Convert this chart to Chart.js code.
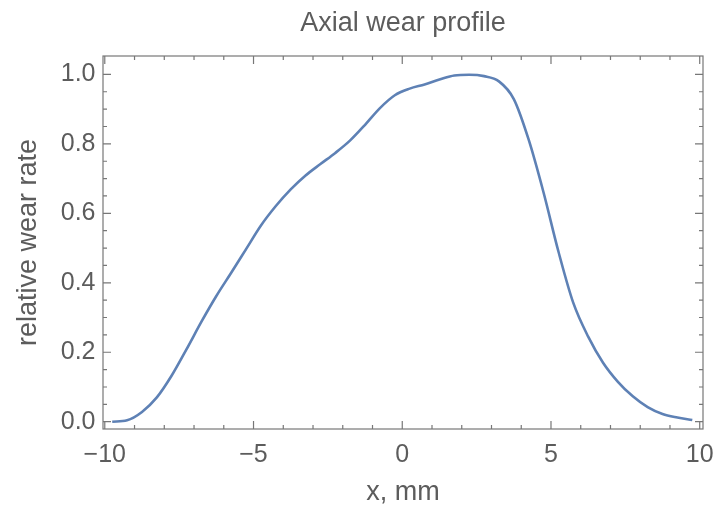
<!DOCTYPE html>
<html>
<head>
<meta charset="utf-8">
<script src="https://cdn.jsdelivr.net/npm/chart.js@4"></script>
<style>
  html, body { margin: 0; padding: 0; background: #fff; }
  #wrap { width: 714px; height: 509px; }
</style>
</head>
<body>
<div id="wrap"><canvas id="wearChart" width="714" height="509"></canvas></div>
<script>
// Axial position, mm
const xPositions = [
  -9.75, -9.25, -8.75, -8.25, -7.75, -7.25, -6.75, -6.25, -5.75, -5.25,
  -4.75, -4.25, -3.75, -3.25, -2.75, -2.25, -1.75, -1.25, -0.75, -0.25,
  0.25, 0.75, 1.25, 1.75, 2.25, 2.75, 3.25, 3.75, 4.25, 4.75,
  5.25, 5.75, 6.25, 6.75, 7.25, 7.75, 8.25, 8.75, 9.25, 9.75
];
// Relative wear rate
const wearRate = [
  0.000, 0.004, 0.028, 0.070, 0.133, 0.209, 0.288, 0.362, 0.429, 0.497,
  0.565, 0.621, 0.669, 0.709, 0.742, 0.774, 0.810, 0.855, 0.903, 0.940,
  0.959, 0.971, 0.985, 0.997, 0.999, 0.995, 0.980, 0.929, 0.812, 0.660,
  0.490, 0.342, 0.245, 0.170, 0.115, 0.073, 0.042, 0.022, 0.012, 0.005
];
const xTickValues = [-10, -5, 0, 5, 10];
const yTickValues = [0, 0.2, 0.4, 0.6, 0.8, 1.0];

const textColor = '#5c5c5c';
const frameColor = '#777';
const fontFamily = '"Liberation Sans", Arial, sans-serif';

// frame around the plot with inward ticks on all four sides
const frameTicks = {
  id: 'frameTicks',
  beforeDatasetsDraw(chart) {
    const { ctx, chartArea: a, scales: { x, y } } = chart;
    ctx.save();
    ctx.strokeStyle = frameColor;
    ctx.lineWidth = 1.2;
    ctx.strokeRect(a.left, a.top, a.right - a.left, a.bottom - a.top);
    ctx.beginPath();
    for (let v = -10; v <= 10; v++) {
      const px = x.getPixelForValue(v);
      const len = v % 5 === 0 ? 8 : 4;
      ctx.moveTo(px, a.bottom); ctx.lineTo(px, a.bottom - len);
      ctx.moveTo(px, a.top); ctx.lineTo(px, a.top + len);
    }
    for (let i = 0; i <= 20; i++) {
      const py = y.getPixelForValue(i * 0.05);
      const len = i % 4 === 0 ? 8 : 4;
      ctx.moveTo(a.left, py); ctx.lineTo(a.left + len, py);
      ctx.moveTo(a.right, py); ctx.lineTo(a.right - len, py);
    }
    ctx.stroke();
    ctx.restore();
  }
};

const ctx = document.getElementById('wearChart').getContext('2d');
const wearChart = new Chart(ctx, {
  type: 'line',
  data: {
    datasets: [{
      data: xPositions.map((x, i) => ({ x: x, y: wearRate[i] })),
      borderColor: '#5E81B5',
      borderWidth: 2.6,
      pointRadius: 0,
      fill: false,
      cubicInterpolationMode: 'monotone'
    }]
  },
  options: {
    responsive: false,
    devicePixelRatio: 1,
    animation: false,
    layout: { padding: { left: 0, right: 11, top: 0, bottom: 0 } },
    scales: {
      x: {
        type: 'linear',
        min: -10.06,
        max: 10.11,
        grid: { display: false, drawTicks: false },
        border: { display: false },
        afterBuildTicks: s => { s.ticks = xTickValues.map(v => ({ value: v })); },
        afterFit: s => { s.height = 80; s.paddingLeft = 0; s.paddingRight = 0; },
        ticks: {
          autoSkip: false,
          maxRotation: 0,
          padding: 11,
          color: textColor,
          font: { family: fontFamily, size: 25 },
          callback: v => (v < 0 ? '\u2212' + Math.abs(v) : String(v))
        },
        title: {
          display: true,
          text: 'x, mm',
          color: textColor,
          font: { family: fontFamily, size: 27 },
          padding: { top: 0, bottom: 0 }
        }
      },
      y: {
        min: -0.021,
        max: 1.053,
        grid: { display: false, drawTicks: false },
        border: { display: false },
        afterBuildTicks: s => { s.ticks = yTickValues.map(v => ({ value: v })); },
        afterFit: s => { s.width = 103; s.paddingTop = 0; s.paddingBottom = 0; },
        ticks: {
          padding: 7.5,
          color: textColor,
          font: { family: fontFamily, size: 25 },
          callback: v => v.toFixed(1)
        },
        title: {
          display: true,
          text: 'relative wear rate',
          color: textColor,
          font: { family: fontFamily, size: 27 },
          padding: { top: 12.3, bottom: 0 }
        }
      }
    },
    plugins: {
      legend: { display: false },
      tooltip: { enabled: false },
      title: {
        display: true,
        fullSize: false,
        text: 'Axial wear profile',
        color: textColor,
        font: { family: fontFamily, size: 27, weight: 'normal' },
        padding: { top: 7.8, bottom: 15.8 }
      }
    }
  },
  plugins: [frameTicks]
});
</script>
</body>
</html>
